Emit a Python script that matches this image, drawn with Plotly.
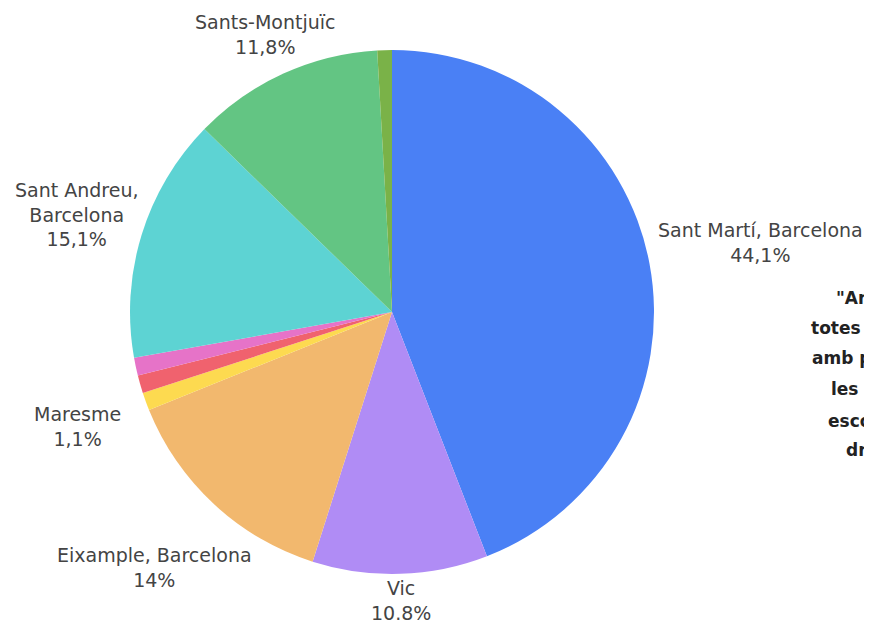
import math
import plotly.graph_objects as go

# Data
labels = ["Sant Martí, Barcelona", "Vic", "Eixample, Barcelona", "Maresme",
          "Gràcia, Barcelona", "Horta-Guinardó", "Sant Andreu, Barcelona",
          "Sants-Montjuïc", "Sant Cugat"]
values = [44.1, 10.8, 14.0, 1.1, 1.1, 1.1, 15.1, 11.8, 0.9]
label_texts = ["Sant Martí, Barcelona<br>44,1%", "Vic<br>10.8%",
               "Eixample, Barcelona<br>14%", "Maresme<br>1,1%", "", "",
               "Sant Andreu,<br>Barcelona<br>15,1%", "Sants-Montjuïc<br>11,8%", ""]
colors = ["#4A80F5", "#B08CF5", "#F2B86E", "#FDDA50", "#F0626E",
          "#E673C8", "#5DD3D3", "#63C583", "#7AB248"]

side_lines = ['"Arreu del territori,', "totes les escoles compten",
              "amb professionals que fan", "les unitats de suport",
              "escolar i atenen els", 'drets dels infants"']

# Layout (pixels in the 872x623 picture)
W, H = 872, 623
OFF = 8  # page body margin
CX, CY, R = 392, 312, 262          # pie centre and radius
label_dist_px = [375, 289, 349, 335, None, None, 330, 305, None]  # label centre distance from pie centre
side_line_left_px = [834, 809, 810, 829, 826, 844]
side_line_center_px = [298, 328, 358, 389, 421, 450]


def px_to_paper(x, y):
    return (x - OFF) / W, 1 - (y - OFF) / H


x0, y1 = px_to_paper(CX - R, CY - R)
x1, y0 = px_to_paper(CX + R, CY + R)

fig = go.Figure(go.Pie(
    labels=labels,
    values=values,
    textinfo="none",
    sort=False,
    direction="clockwise",
    rotation=0,
    marker=dict(colors=colors, line=dict(width=0)),
    showlegend=False,
    domain=dict(x=[x0, x1], y=[y0, y1]),
    hoverinfo="label+percent",
))

# Outside slice labels, placed along each slice's mid-angle
total = sum(values)
cum = 0.0
for txt, v, dist in zip(label_texts, values, label_dist_px):
    mid = math.radians((cum + v / 2) / total * 360)
    cum += v
    if not txt:
        continue
    px = CX + dist * math.sin(mid)
    py = CY - dist * math.cos(mid)
    ax, ay = px_to_paper(px, py)
    fig.add_annotation(
        text=txt, x=ax, y=ay, xref="paper", yref="paper",
        xanchor="center", yanchor="middle", align="center", showarrow=False,
        font=dict(family="DejaVu Sans", size=19, color="#444444"),
    )

for line, xl, yc in zip(side_lines, side_line_left_px, side_line_center_px):
    ax, ay = px_to_paper(xl, yc)
    fig.add_annotation(
        text=line, x=ax, y=ay, xref="paper", yref="paper",
        xanchor="left", yanchor="middle", showarrow=False,
        font=dict(family="DejaVu Sans", size=17, color="#222222", weight="bold"),
    )

fig.update_layout(
    width=W, height=H,
    margin=dict(l=0, r=0, t=0, b=0),
    paper_bgcolor="white", plot_bgcolor="white",
)

fig.write_html("out.html")
